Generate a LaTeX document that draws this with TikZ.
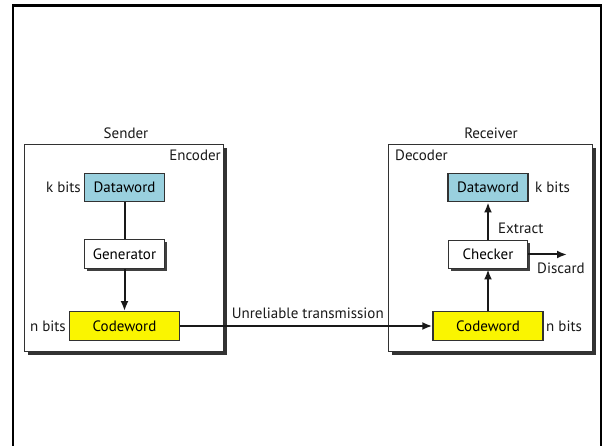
\documentclass[tikz,border=0pt]{standalone}
\usepackage{fontspec}
\setmainfont{PT Sans}
\usetikzlibrary{shadows,arrows.meta}
\definecolor{dwblue}{RGB}{153,208,222}
\definecolor{cwyellow}{RGB}{250,245,0}
\definecolor{edgecol}{RGB}{50,50,50}
\begin{document}
\begin{tikzpicture}[x=1pt,y=-1pt,
  font=\fontsize{15}{17}\selectfont,
  bigbox/.style={draw=edgecol, line width=1.4pt, fill=white, anchor=north west, inner sep=0pt,
    drop shadow={shadow xshift=3.5pt, shadow yshift=-3.5pt, fill=black!80, opacity=1}},
  wordbox/.style={draw=edgecol, line width=1.4pt, minimum height=28.5pt, inner sep=0pt},
  shbox/.style={wordbox, fill=white,
    drop shadow={shadow xshift=2.5pt, shadow yshift=-2.5pt, fill=black!75, opacity=1}},
  lbl/.style={inner sep=0pt, text=black!90},
  conn/.style={line width=2pt, draw=black!90},
  arr/.style={conn, -{Latex[length=10pt,width=8pt]}}]
\useasboundingbox (0,0) rectangle (605,446);
% outer frame
\draw[line width=2.5pt] (13,452) -- (13,5.5) -- (601,5.5) -- (601,452);
% sender / receiver boxes
\node[bigbox, minimum width=199pt, minimum height=207pt] (enc) at (24,144) {};
\node[bigbox, minimum width=204pt, minimum height=207pt] (dec) at (388,144) {};
\node[lbl] (sender) at (126,133) {Sender};
\node[lbl] (receiver) at (491,133) {Receiver};
\node[lbl, anchor=east] (enclbl) at (221,155) {Encoder};
\node[lbl, anchor=west] (declbl) at (395,155) {Decoder};
% sender side
\node[wordbox, fill=dwblue, minimum width=80pt] (dwL) at (124.5,187.5) {Dataword};
\node[shbox, minimum width=80pt] (gen) at (124.5,254) {Generator};
\node[wordbox, fill=cwyellow, minimum width=110pt] (cwL) at (124.5,326) {Codeword};
\node[lbl, anchor=east] (kL) at (81,187.5) {k bits};
\node[lbl, anchor=east] (nL) at (66,326) {n bits};
% receiver side
\node[wordbox, fill=dwblue, minimum width=80pt] (dwR) at (488,187.5) {Dataword};
\node[shbox, minimum width=79pt] (chk) at (488,254.5) {Checker};
\node[wordbox, fill=cwyellow, minimum width=110pt] (cwR) at (488,326) {Codeword};
\node[lbl, anchor=west] (kR) at (535,187.5) {k bits};
\node[lbl, anchor=west] (nR) at (546,326) {n bits};
\node[lbl, anchor=west] (extract) at (498,228) {Extract};
\node[lbl, anchor=west] (discard) at (537,268) {Discard};
\coordinate (dend) at (567,254.5);
% connectors
\draw[conn] (dwL) -- (gen);
\draw[arr] (gen) -- (cwL);
\draw[arr] (cwL) -- node[lbl, above=6pt, pos=0.506] (unrel) {Unreliable transmission} (cwR);
\draw[arr] (cwR) -- (chk);
\draw[arr] (chk) -- (dwR);
\draw[arr] (chk) -- (dend);
\end{tikzpicture}
\end{document}
